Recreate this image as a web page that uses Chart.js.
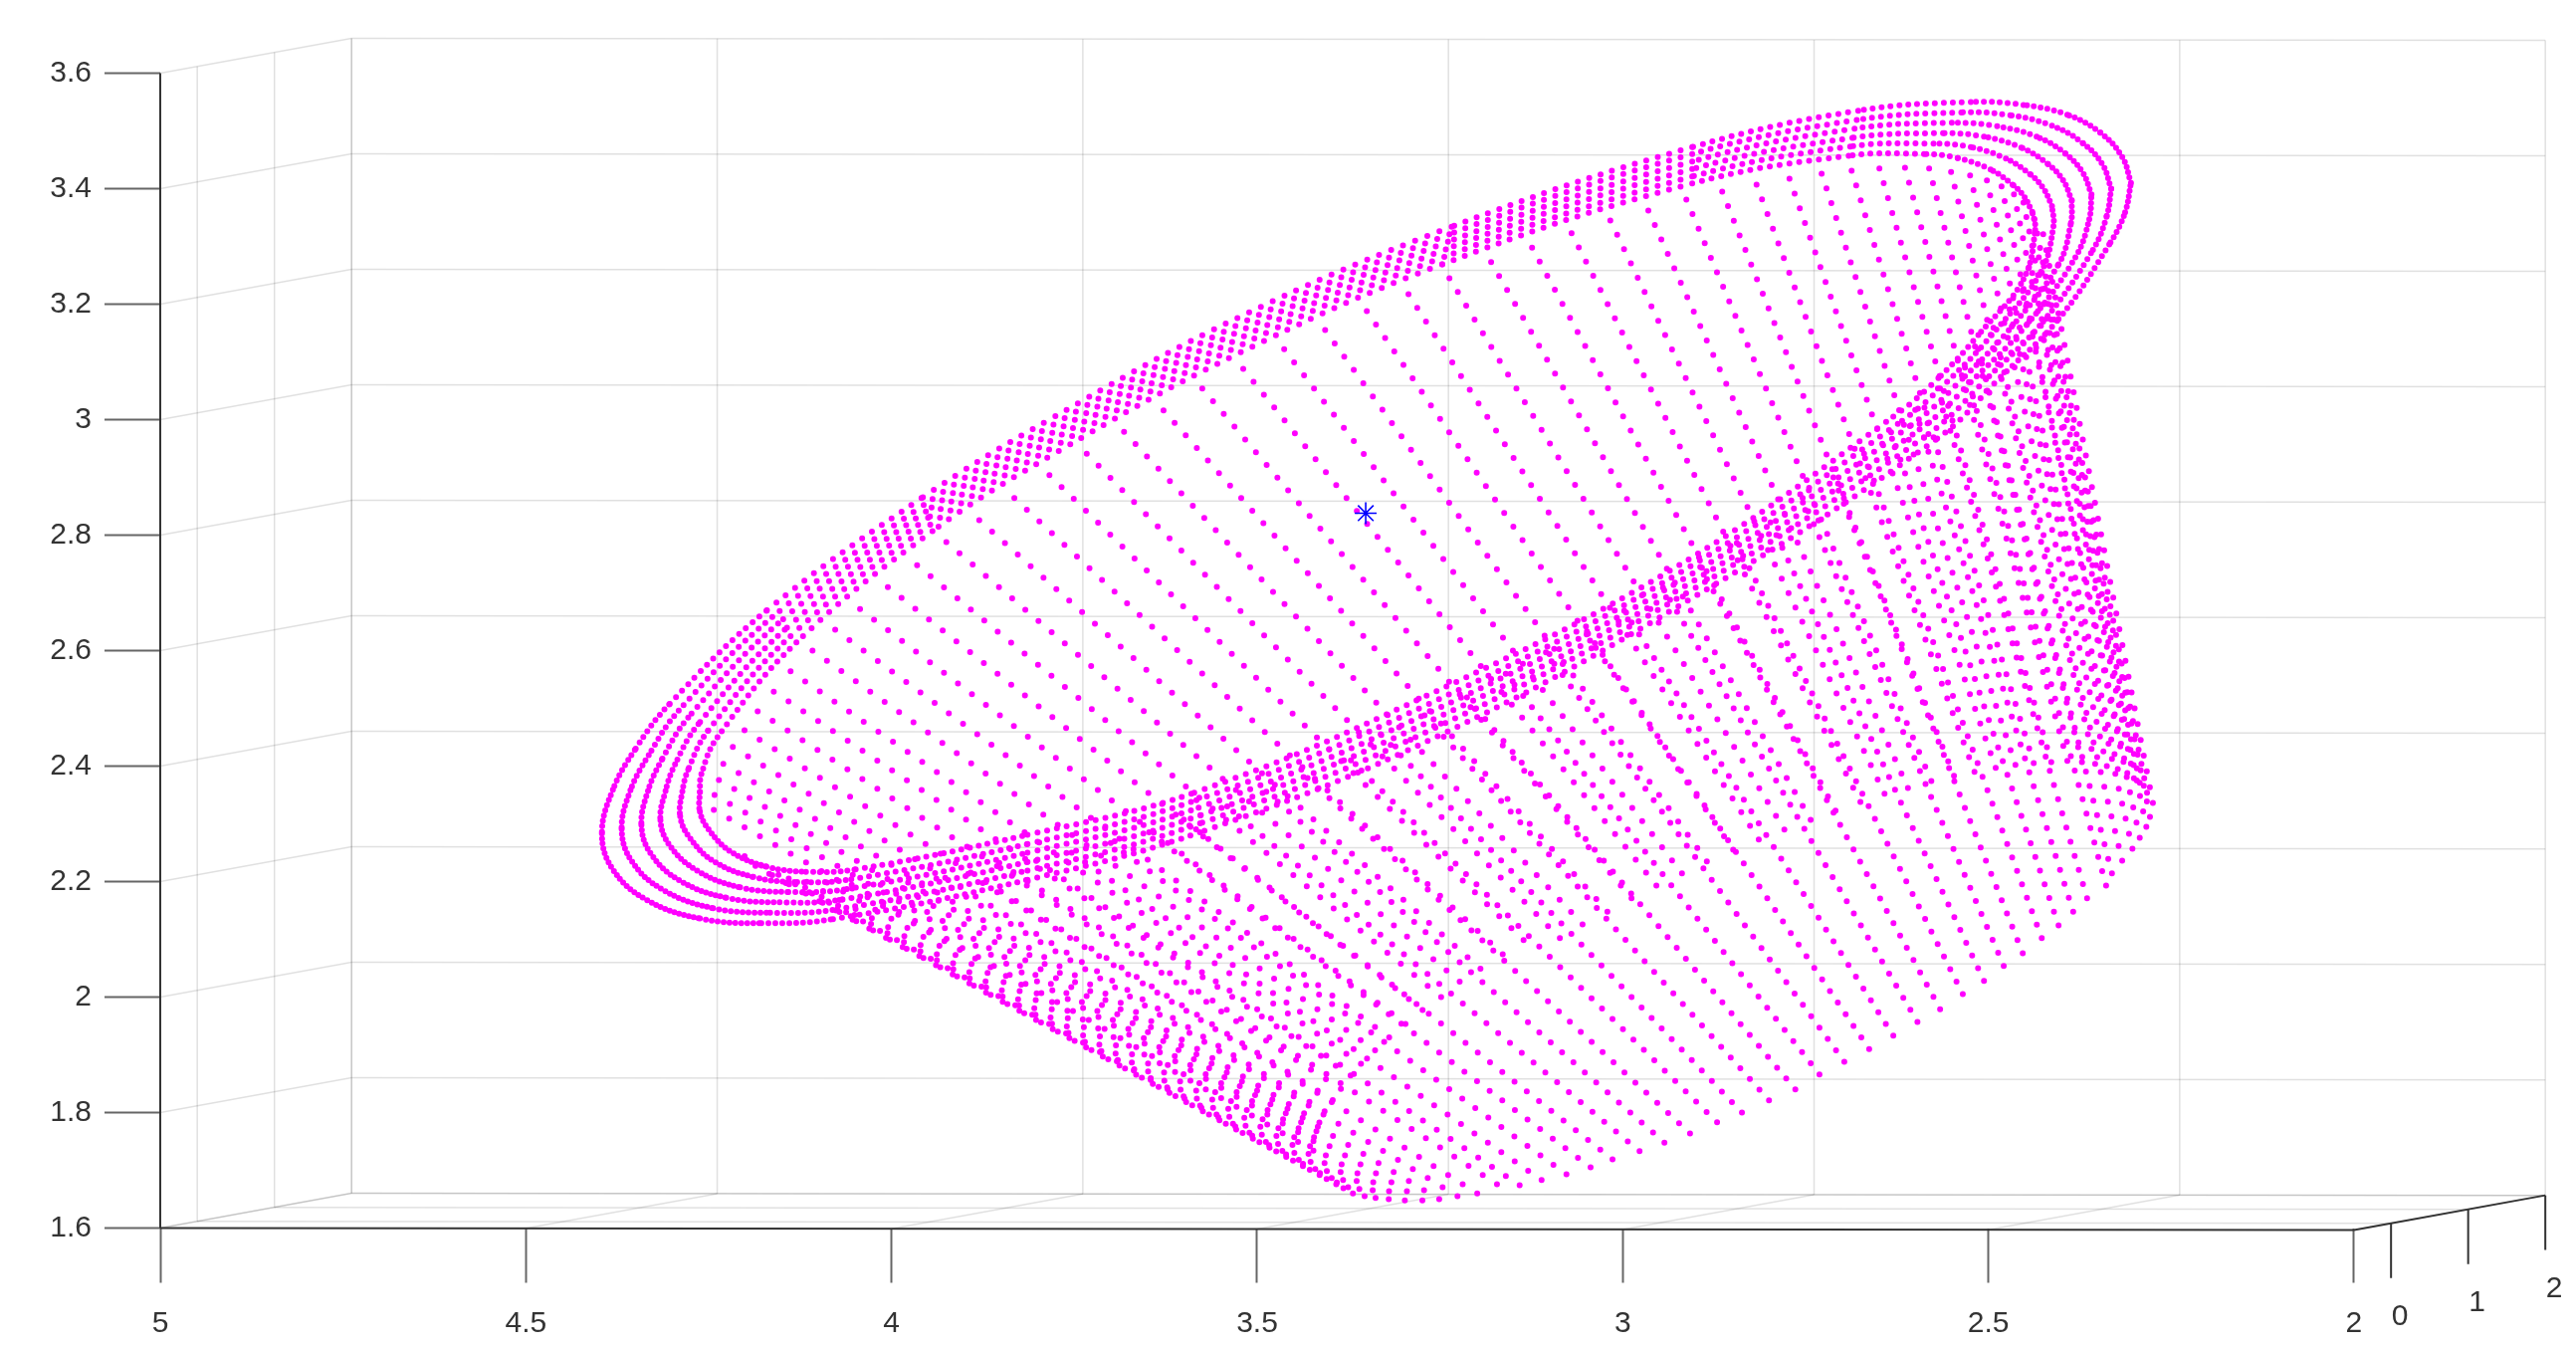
<!DOCTYPE html>
<html>
<head>
<meta charset="utf-8">
<title>Point cloud</title>
<script src="https://cdn.jsdelivr.net/npm/chart.js@4"></script>
<style>
  html, body { margin: 0; background: #fff; }
  canvas { display: block; }
</style>
</head>
<body>
<canvas id="cloudChart" width="2588" height="1356"></canvas>
<script>
const xTicks = [5, 4.5, 4, 3.5, 3, 2.5, 2];
const yTicks = [1.6, 1.8, 2, 2.2, 2.4, 2.6, 2.8, 3, 3.2, 3.4, 3.6];
const depthTicks = [0, 1, 2];

const centerX = [3.3515];
const centerY = [2.838];

// rim rings, values at anchor points around each ring
const ring1X = [2.305,2.317,2.347,2.392,2.452,2.524,2.678,2.905,3.234,3.527,3.784,3.959,4.171,4.304,4.351,4.381,4.396,4.381,4.336,4.262,4.178,4.080,3.814,3.572,3.251,2.905,2.570,2.483,2.404,2.333,2.313];
const ring1Y = [3.410,3.455,3.497,3.528,3.545,3.550,3.535,3.472,3.334,3.176,3.000,2.864,2.669,2.507,2.428,2.359,2.283,2.221,2.169,2.136,2.128,2.135,2.203,2.288,2.453,2.691,2.967,3.074,3.174,3.307,3.359];
const ring2X = [2.332,2.344,2.371,2.413,2.470,2.537,2.680,2.905,3.237,3.528,3.782,3.956,4.163,4.291,4.332,4.357,4.369,4.355,4.313,4.244,4.166,4.074,3.814,3.575,3.255,2.911,2.582,2.499,2.425,2.357,2.338];
const ring2Y = [3.400,3.442,3.479,3.509,3.527,3.532,3.519,3.460,3.321,3.163,2.989,2.852,2.658,2.496,2.419,2.358,2.291,2.235,2.186,2.154,2.146,2.152,2.219,2.302,2.467,2.701,2.975,3.075,3.170,3.294,3.353];
const ring3X = [2.359,2.371,2.395,2.434,2.488,2.550,2.683,2.905,3.239,3.529,3.779,3.953,4.155,4.278,4.314,4.333,4.342,4.329,4.290,4.226,4.153,4.067,3.814,3.577,3.260,2.916,2.594,2.516,2.447,2.381,2.362];
const ring3Y = [3.390,3.428,3.461,3.490,3.508,3.514,3.504,3.447,3.308,3.150,2.978,2.841,2.647,2.484,2.411,2.357,2.298,2.248,2.202,2.172,2.164,2.169,2.234,2.315,2.480,2.711,2.983,3.075,3.165,3.281,3.347];
const ring4X = [2.386,2.398,2.419,2.455,2.506,2.562,2.686,2.905,3.242,3.530,3.777,3.950,4.146,4.264,4.296,4.309,4.316,4.303,4.266,4.207,4.141,4.061,3.814,3.580,3.264,2.921,2.606,2.532,2.468,2.404,2.387];
const ring4Y = [3.380,3.415,3.443,3.471,3.490,3.496,3.488,3.434,3.295,3.137,2.967,2.830,2.636,2.473,2.403,2.357,2.306,2.262,2.219,2.190,2.182,2.187,2.250,2.328,2.493,2.721,2.990,3.075,3.161,3.269,3.341];
const ring5X = [2.413,2.425,2.443,2.476,2.524,2.575,2.689,2.905,3.244,3.532,3.774,3.947,4.138,4.251,4.278,4.286,4.289,4.276,4.243,4.189,4.129,4.055,3.814,3.583,3.268,2.927,2.618,2.548,2.489,2.428,2.411];
const ring5Y = [3.370,3.401,3.425,3.452,3.472,3.478,3.473,3.421,3.282,3.123,2.956,2.818,2.625,2.461,2.394,2.356,2.313,2.276,2.235,2.208,2.199,2.204,2.265,2.341,2.506,2.731,2.998,3.076,3.156,3.256,3.335];
const ring6X = [2.440,2.452,2.467,2.497,2.542,2.588,2.691,2.905,3.247,3.533,3.772,3.944,4.130,4.238,4.260,4.262,4.262,4.250,4.220,4.171,4.117,4.049,3.814,3.586,3.273,2.932,2.630,2.565,2.510,2.452,2.436];
const ring6Y = [3.360,3.388,3.407,3.433,3.453,3.460,3.457,3.409,3.269,3.110,2.945,2.807,2.614,2.450,2.386,2.355,2.321,2.290,2.252,2.226,2.217,2.221,2.281,2.354,2.519,2.741,3.005,3.076,3.152,3.243,3.329];

// surface rays, read as a start and an end value (hidden ends are estimates)
const backRayCount = 49;
const rayTopX = [4.243,4.242,4.236,4.230,4.217,4.201,4.183,4.161,4.138,4.108,4.077,4.043,4.005,3.965,3.925,3.880,3.832,3.784,3.733,3.682,3.628,3.575,3.519,3.463,3.407,3.350,3.293,3.237,3.180,3.124,3.070,3.017,2.965,2.913,2.864,2.817,2.772,2.728,2.687,2.649,2.614,2.581,2.551,2.525,2.502,2.482,2.465,2.452,2.437,
  2.425,2.431,2.440,2.453,2.471,2.493,2.514,2.532,2.569,2.600,2.633,2.670,2.712,2.754,2.798,2.844,2.894,2.945,2.998,3.049,3.105,3.160,3.213,3.271,3.331,3.386,3.446,3.503,3.557,3.617,3.665,3.718,3.772,3.821,3.872,3.915,3.959,3.998,4.036,4.076,4.110,4.138,4.163,4.190,4.209,4.224];
const rayTopY = [2.324,2.350,2.376,2.404,2.433,2.462,2.495,2.529,2.564,2.600,2.636,2.672,2.710,2.748,2.788,2.826,2.864,2.904,2.941,2.979,3.016,3.054,3.088,3.122,3.155,3.188,3.217,3.245,3.273,3.298,3.323,3.345,3.362,3.381,3.395,3.407,3.417,3.426,3.431,3.435,3.436,3.435,3.429,3.423,3.414,3.404,3.390,3.376,3.347,
  3.321,3.281,3.254,3.223,3.191,3.159,3.122,3.090,3.054,3.017,2.978,2.941,2.900,2.864,2.822,2.786,2.745,2.709,2.669,2.633,2.597,2.560,2.519,2.488,2.455,2.428,2.397,2.373,2.347,2.324,2.302,2.283,2.266,2.252,2.248,2.229,2.221,2.214,2.210,2.210,2.214,2.215,2.221,2.229,2.243,2.260];
const rayEndX = [3.402,3.402,3.398,3.394,3.387,3.376,3.365,3.352,3.338,3.319,3.300,3.278,3.255,3.230,3.205,3.177,3.147,3.119,3.086,3.055,3.021,2.988,2.954,2.919,2.885,2.849,2.814,2.779,2.743,2.709,2.675,2.642,2.610,2.578,2.547,2.519,2.490,2.463,2.438,2.414,2.392,2.372,2.354,2.338,2.323,2.310,2.301,2.293,2.283,
  2.275,2.279,2.284,2.293,2.303,2.317,2.331,2.339,2.365,2.384,2.404,2.427,2.453,2.479,2.506,2.535,2.566,2.597,2.630,2.663,2.697,2.731,2.764,2.800,2.837,2.871,2.908,2.943,2.977,3.014,3.044,3.077,3.111,3.141,3.172,3.199,3.226,3.251,3.274,3.298,3.320,3.338,3.353,3.369,3.382,3.391];
const rayEndY = [1.719,1.735,1.752,1.767,1.786,1.805,1.824,1.847,1.867,1.890,1.912,1.935,1.959,1.981,2.007,2.029,2.054,2.078,2.102,2.126,2.148,2.171,2.193,2.214,2.235,2.255,2.273,2.290,2.307,2.323,2.338,2.352,2.362,2.374,2.383,2.390,2.397,2.402,2.405,2.407,2.409,2.407,2.404,2.400,2.395,2.388,2.379,2.371,2.354,
  2.336,2.312,2.295,2.276,2.257,2.236,2.214,2.193,2.171,2.148,2.124,2.102,2.076,2.054,2.028,2.005,1.979,1.957,1.933,1.910,1.888,1.866,1.840,1.821,1.800,1.783,1.764,1.748,1.733,1.719,1.705,1.693,1.683,1.674,1.676,1.660,1.655,1.650,1.648,1.648,1.650,1.652,1.655,1.660,1.669,1.679];

// dot spacing along each ring segment, px
const ringGaps = [5.5,5.5,6,7,8,9,10,12,13,13,13,12,9,7,6,5.5,5,5,5,6,7,9,10,11,11,11,10,8,7,6,5.5];
// dots counted along one ray
const backRaySteps = 40;
const frontRaySteps = 36;

const MAGENTA = "#ff00ff";
const GRID = "rgba(0,0,0,0.12)";
const AXIS = "#333333";
const DOT = 6;
const DEPTH_FRONT = -0.48;
const PX_PER_X = 734.67;
const PX_PER_Y = 580;

// the box is a 3D view, so depth shifts a value sideways and up on the 2D scales
function boxPoint(x, y, depth) {
  const d = depth - DEPTH_FRONT;
  return { x: x - 0.1055 * d, y: y + 0.0243 * d - (5 - x) * 0.0012 };
}

function frameLine(a, b, color, width) {
  return {
    data: [a, b],
    showLine: true,
    pointRadius: 0,
    borderColor: color,
    borderWidth: width,
    clip: false
  };
}

const gridLines = [];
xTicks.forEach(x => {
  gridLines.push(frameLine(boxPoint(x, 1.6, 2), boxPoint(x, 3.6, 2), GRID, 1.5));
  gridLines.push(frameLine(boxPoint(x, 1.6, DEPTH_FRONT), boxPoint(x, 1.6, 2), GRID, 1.5));
});
yTicks.forEach(y => {
  gridLines.push(frameLine(boxPoint(5, y, 2), boxPoint(2, y, 2), GRID, 1.5));
  gridLines.push(frameLine(boxPoint(5, y, DEPTH_FRONT), boxPoint(5, y, 2), GRID, 1.5));
});
depthTicks.forEach(d => {
  gridLines.push(frameLine(boxPoint(5, 1.6, d), boxPoint(5, 3.6, d), GRID, 1.5));
  gridLines.push(frameLine(boxPoint(5, 1.6, d), boxPoint(2, 1.6, d), GRID, 1.5));
});

const axisLines = [
  frameLine(boxPoint(5, 1.6, DEPTH_FRONT), boxPoint(5, 3.6, DEPTH_FRONT), AXIS, 2),
  frameLine(boxPoint(5, 1.6, DEPTH_FRONT), boxPoint(2, 1.6, DEPTH_FRONT), AXIS, 2),
  frameLine(boxPoint(2, 1.6, DEPTH_FRONT), boxPoint(2, 1.6, 2), AXIS, 2)
];
depthTicks.forEach(d => {
  const p = boxPoint(2, 1.6, d);
  axisLines.push(frameLine(p, { x: p.x, y: p.y - 0.0948 }, AXIS, 2));
});

// the cloud has thousands of dots: each ring and ray is kept as its read anchors
// and drawn as a dotted line, so the dots themselves are not individual values
function ringSet(xs, ys) {
  const pts = xs.map((x, i) => ({ x, y: ys[i] }));
  pts.push(pts[0]);
  return {
    data: pts,
    showLine: true,
    pointRadius: 0,
    tension: 0.4,
    borderColor: MAGENTA,
    borderWidth: DOT,
    borderCapStyle: "round",
    borderDash: [0, 10],
    segment: { borderDash: ctx => [0, ringGaps[ctx.p0DataIndex]] }
  };
}

const raySets = rayTopX.map((x, i) => {
  const top = { x, y: rayTopY[i] };
  const end = { x: rayEndX[i], y: rayEndY[i] };
  const isBack = i < backRayCount;
  const length = Math.hypot((top.x - end.x) * PX_PER_X, (top.y - end.y) * PX_PER_Y);
  return {
    // front rays start at the bottom edge so their dots line up along it
    data: isBack ? [top, end] : [end, top],
    showLine: true,
    pointRadius: 0,
    borderColor: MAGENTA,
    borderWidth: DOT,
    borderCapStyle: "round",
    borderDash: [0, length / (isBack ? backRaySteps : frontRaySteps)]
  };
});

const depthLabels = {
  id: "depthLabels",
  afterDraw(chart) {
    const { ctx, scales } = chart;
    ctx.save();
    ctx.font = '30px "Liberation Sans"';
    ctx.fillStyle = "#333333";
    ctx.textAlign = "center";
    ctx.textBaseline = "middle";
    depthTicks.forEach(d => {
      const p = boxPoint(2, 1.6, d);
      ctx.fillText(String(d), scales.x.getPixelForValue(p.x) + 9, scales.y.getPixelForValue(p.y - 0.0948) + 39);
    });
    ctx.restore();
  }
};

new Chart(document.getElementById("cloudChart"), {
  type: "scatter",
  data: {
    datasets: [
      {
        data: centerX.map((x, i) => ({ x, y: centerY[i] })),
        pointStyle: "star",
        pointRadius: 11,
        borderColor: "#0000ff",
        borderWidth: 1.6
      },
      ringSet(ring1X, ring1Y),
      ringSet(ring2X, ring2Y),
      ringSet(ring3X, ring3Y),
      ringSet(ring4X, ring4Y),
      ringSet(ring5X, ring5Y),
      ringSet(ring6X, ring6Y),
      ...raySets,
      ...axisLines,
      ...gridLines
    ]
  },
  options: {
    responsive: false,
    animation: false,
    layout: { padding: { top: 38.5, right: 31, left: 0, bottom: 0 } },
    plugins: { legend: { display: false }, tooltip: { enabled: false } },
    scales: {
      x: {
        type: "linear",
        reverse: true,
        min: 1.7386,
        max: 5,
        afterBuildTicks: s => { s.ticks = xTicks.map(value => ({ value })); },
        afterFit: s => { s.height = 122.5; },
        border: { display: false },
        grid: { drawOnChartArea: false, tickLength: 55, tickColor: "#666666", tickWidth: 2 },
        ticks: {
          autoSkip: false,
          maxRotation: 0,
          padding: 23,
          color: "#333333",
          font: { family: "Liberation Sans", size: 30 },
          callback: v => String(v)
        }
      },
      y: {
        type: "linear",
        min: 1.6,
        max: 3.6603,
        afterBuildTicks: s => { s.ticks = yTicks.map(value => ({ value })); },
        afterFit: s => { s.width = 161; },
        border: { display: false },
        grid: { drawOnChartArea: false, tickLength: 56, tickColor: "#666666", tickWidth: 2 },
        ticks: {
          autoSkip: false,
          padding: 13,
          color: "#333333",
          font: { family: "Liberation Sans", size: 30 },
          callback: v => String(v)
        }
      }
    }
  },
  plugins: [depthLabels]
});
</script>
</body>
</html>
